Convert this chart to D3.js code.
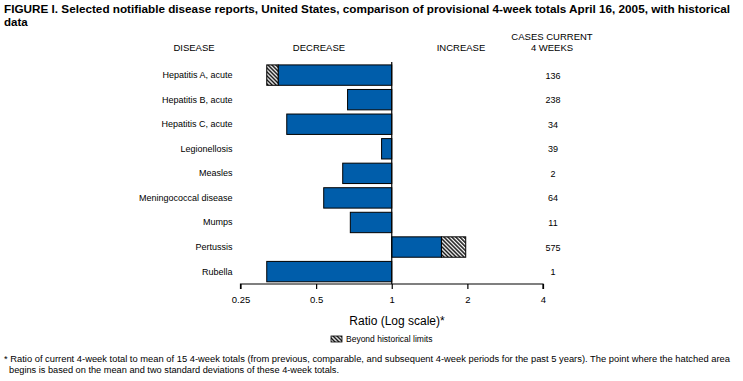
<!DOCTYPE html>
<html><head><meta charset="utf-8">
<script src="https://cdn.jsdelivr.net/npm/d3@7"></script>
<style>body{margin:0;background:#fff}svg{display:block;font-family:"Liberation Sans Narrow","Arial Narrow","Liberation Sans",Arial,sans-serif}</style>
</head><body>
<svg id="c" width="743" height="381"></svg>
<script>
const diseases = ["Hepatitis A, acute","Hepatitis B, acute","Hepatitis C, acute","Legionellosis","Measles","Meningococcal disease","Mumps","Pertussis","Rubella"];
const ratios = [0.318,0.667,0.382,0.911,0.638,0.536,0.684,1.97,0.318];
const limits = [0.353,null,null,null,null,null,null,1.577,null];
const cases = [136,238,34,39,2,64,11,575,1];
const tickValues = [0.25,0.5,1,2,4];
const tickLabels = ["0.25","0.5","1","2","4"];

const svg = d3.select("#c");
const defs = svg.append("defs");
const pat = defs.append("pattern").attr("id","hatch").attr("patternUnits","userSpaceOnUse")
  .attr("width",2.8).attr("height",2.8).attr("patternTransform","rotate(-45)");
pat.append("rect").attr("width",2.8).attr("height",2.8).attr("fill","#fff");
pat.append("line").attr("x1",0.7).attr("y1",0).attr("x2",0.7).attr("y2",2.8).attr("stroke","#000").attr("stroke-width",1.4);

const x = d3.scaleLog().base(2).domain([0.25,4]).range([240.5,543]);
const y = d3.scaleBand().domain(diseases).range([62.7,284]).paddingInner(0.17).paddingOuter(0.09);
const blue = "#005DAA";

// title
const title = svg.append("text").attr("font-weight","bold").attr("font-size",11.5).attr("fill","#000");
title.append("tspan").attr("x",4).attr("y",13).attr("textLength",726).attr("lengthAdjust","spacingAndGlyphs")
  .text("FIGURE I. Selected notifiable disease reports, United States, comparison of provisional 4-week totals April 16, 2005, with historical");
title.append("tspan").attr("x",4).attr("y",26).text("data");

// headers
const hdr = svg.append("g").attr("font-size",9.5).attr("text-anchor","middle").attr("fill","#000");
hdr.append("text").attr("x",194).attr("y",51).text("DISEASE");
hdr.append("text").attr("x",319).attr("y",51).text("DECREASE");
hdr.append("text").attr("x",461).attr("y",51).text("INCREASE");
hdr.append("text").attr("x",552).attr("y",40).text("CASES CURRENT");
hdr.append("text").attr("x",552).attr("y",51).text("4 WEEKS");

// bars
const bars = svg.append("g");
diseases.forEach((d,i)=>{
  const r = ratios[i], lim = limits[i];
  const yy = y(d), h = y.bandwidth();
  if (lim == null) {
    bars.append("rect").attr("x",Math.min(x(r),x(1))).attr("y",yy).attr("width",Math.abs(x(r)-x(1))).attr("height",h)
      .attr("fill",blue).attr("stroke","#000").attr("stroke-width",1);
  } else {
    bars.append("rect").attr("x",Math.min(x(lim),x(1))).attr("y",yy).attr("width",Math.abs(x(lim)-x(1))).attr("height",h)
      .attr("fill",blue).attr("stroke","#000").attr("stroke-width",1);
    bars.append("rect").attr("x",Math.min(x(lim),x(r))).attr("y",yy).attr("width",Math.abs(x(lim)-x(r))).attr("height",h)
      .attr("fill","url(#hatch)").attr("stroke","#000").attr("stroke-width",1);
  }
});

// baseline at 1
svg.append("line").attr("x1",x(1)).attr("x2",x(1)).attr("y1",62).attr("y2",284).attr("stroke","#000").attr("stroke-width",1.2);

// disease labels
svg.append("g").attr("font-size",9).attr("text-anchor","end").selectAll("text").data(diseases).join("text")
  .attr("x",232.5).attr("y",d=>y(d)+y.bandwidth()/2+3).text(d=>d);
// cases
svg.append("g").attr("font-size",9).attr("text-anchor","middle").selectAll("text").data(cases).join("text")
  .attr("x",553).attr("y",(d,i)=>y(diseases[i])+y.bandwidth()/2+3.5).text(d=>d);

// axis
const ax = d3.axisBottom(x).tickValues(tickValues).tickFormat((d,i)=>tickLabels[i]).tickSize(5).tickPadding(7);
const g = svg.append("g").attr("transform","translate(0,284)").call(ax);
g.select(".domain").attr("d",`M${x(0.25)},5V0H${x(4)}V5`).attr("stroke-width",1.2);
g.selectAll(".tick line").attr("stroke-width",1.2);
g.selectAll(".tick text").attr("font-size",9.5).attr("font-family",null);

svg.append("text").attr("x",397).attr("y",325).attr("text-anchor","middle").attr("font-size",12).text("Ratio (Log scale)*");

// legend
svg.append("rect").attr("x",331).attr("y",336).attr("width",11).attr("height",6).attr("fill","url(#hatch)").attr("stroke","#000").attr("stroke-width",0.8);
svg.append("text").attr("x",346).attr("y",342).attr("font-size",8.5).text("Beyond historical limits");

// footnote
const fn = svg.append("text").attr("font-size",8.3);
fn.append("tspan").attr("x",4).attr("y",362).attr("textLength",726).attr("lengthAdjust","spacingAndGlyphs")
  .text("* Ratio of current 4-week total to mean of 15 4-week totals (from previous, comparable, and subsequent 4-week periods for the past 5 years). The point where the hatched area");
fn.append("tspan").attr("x",9).attr("y",373).attr("textLength",330).attr("lengthAdjust","spacingAndGlyphs")
  .text("begins is based on the mean and two standard deviations of these 4-week totals.");
</script>
</body></html>
